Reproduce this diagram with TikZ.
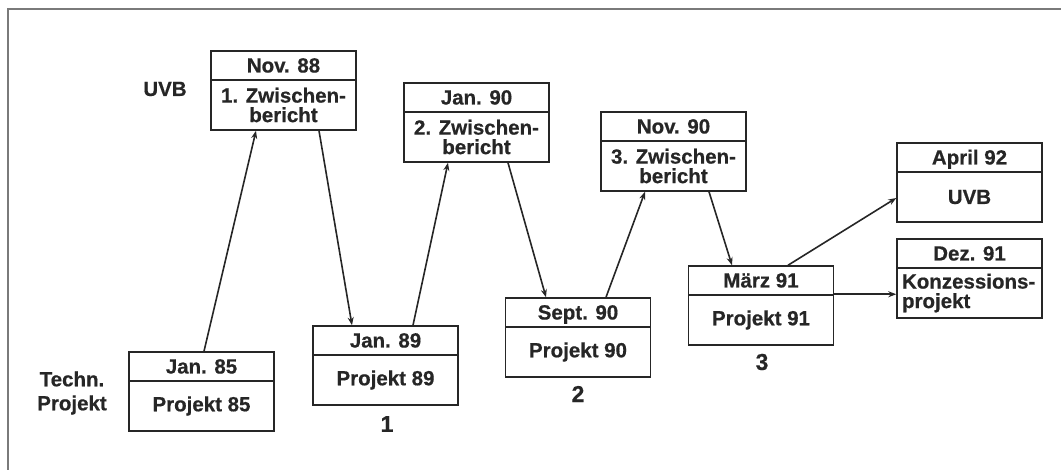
\documentclass[tikz,border=0pt]{standalone}
\usepackage{fontspec}
\setmainfont{Liberation Sans}[BoldFeatures={FakeBold=0.6}]
\usetikzlibrary{arrows.meta}
\definecolor{ink}{HTML}{262626}
\definecolor{rule}{HTML}{7A7A7A}
\tikzset{
  lbl/.style={font=\fontsize{20.5}{19.5}\selectfont\bfseries, text=ink},
  num/.style={lbl, font=\fontsize{23}{23}\selectfont\bfseries},
  head/.style={lbl, draw=ink, line width=1.5pt, minimum width=145pt,
    minimum height=29pt, inner sep=0pt, text height=18pt, text depth=4pt},
  body/.style={lbl, draw=ink, line width=1.5pt, minimum width=145pt,
    minimum height=50pt, inner sep=0pt, align=center},
  arr/.style={draw=ink, line width=1.6pt, -{Stealth[length=8pt,width=6pt]}},
}
\begin{document}
\begin{tikzpicture}[x=1pt,y=-1pt]
\useasboundingbox (0,0) rectangle (1061,470);
% page frame
\draw[rule, line width=1.4pt] (1061,9) -- (8,9) -- (8,470);

% each stage: a date header above a content box
\node[head] (Ah) at (201.5,366.5) {Jan. 85};
\node[body] (Ab) at (201.5,406)   {Projekt 85};

\node[head] (Bh) at (283.5,65.5)  {Nov. 88};
\node[body] (Bb) at (283.5,105)   {1. Zwischen-\\bericht};

\node[head] (Ch) at (385.5,340.5) {Jan. 89};
\node[body] (Cb) at (385.5,380)   {Projekt 89};

\node[head] (Dh) at (476.5,97.5)  {Jan. 90};
\node[body] (Db) at (476.5,137)   {2. Zwischen-\\bericht};

\node[head] (Eh) at (578,312.5)   {Sept. 90};
\node[body] (Eb) at (578,352)     {Projekt 90};

\node[head] (Fh) at (673.5,126.5) {Nov. 90};
\node[body] (Fb) at (673.5,166)   {3. Zwischen-\\bericht};

\node[head] (Gh) at (761,280.5)   {März 91};
\node[body] (Gb) at (761,320)     {Projekt 91};

\node[head] (Hh) at (969.5,157.5) {April 92};
\node[body] (Hb) at (969.5,197)   {UVB};

\node[head] (Ih) at (969.5,253.5) {Dez. 91};
\node[body, align=left, text width=135pt] (Ib) at (969.5,293)
  {Konzessions-\\projekt};

% side labels and stage numbers
\node[lbl] (uvb) at (165,89) {UVB};
\node[lbl, align=center, font=\fontsize{20.5}{24}\selectfont\bfseries]
  (tp) at (72,393) {Techn.\\Projekt};
\node[num] (n1) at (387,424) {1};
\node[num] (n2) at (578,394) {2};
\node[num] (n3) at (762,362) {3};

% sequence of reports
\draw[arr] ([xshift=2.5pt]Ah.north)  -- ([xshift=-27.5pt]Bb.south);
\draw[arr] ([xshift=35.5pt]Bb.south) -- ([xshift=-33.5pt]Ch.north);
\draw[arr] ([xshift=27.5pt]Ch.north) -- ([xshift=-28.5pt]Db.south);
\draw[arr] ([xshift=31.5pt]Db.south) -- ([xshift=-32pt]Eh.north);
\draw[arr] ([xshift=28pt]Eh.north)   -- ([xshift=-28.5pt]Fb.south);
\draw[arr] ([xshift=35.5pt]Fb.south) -- ([xshift=-29pt]Gh.north);
\draw[arr] ([xshift=27pt]Gh.north)   -- ([yshift=-1pt]Hb.west);
\draw[arr] (Gb.north east) -- (Gb.north east -| Ib.west);
\end{tikzpicture}
\end{document}
